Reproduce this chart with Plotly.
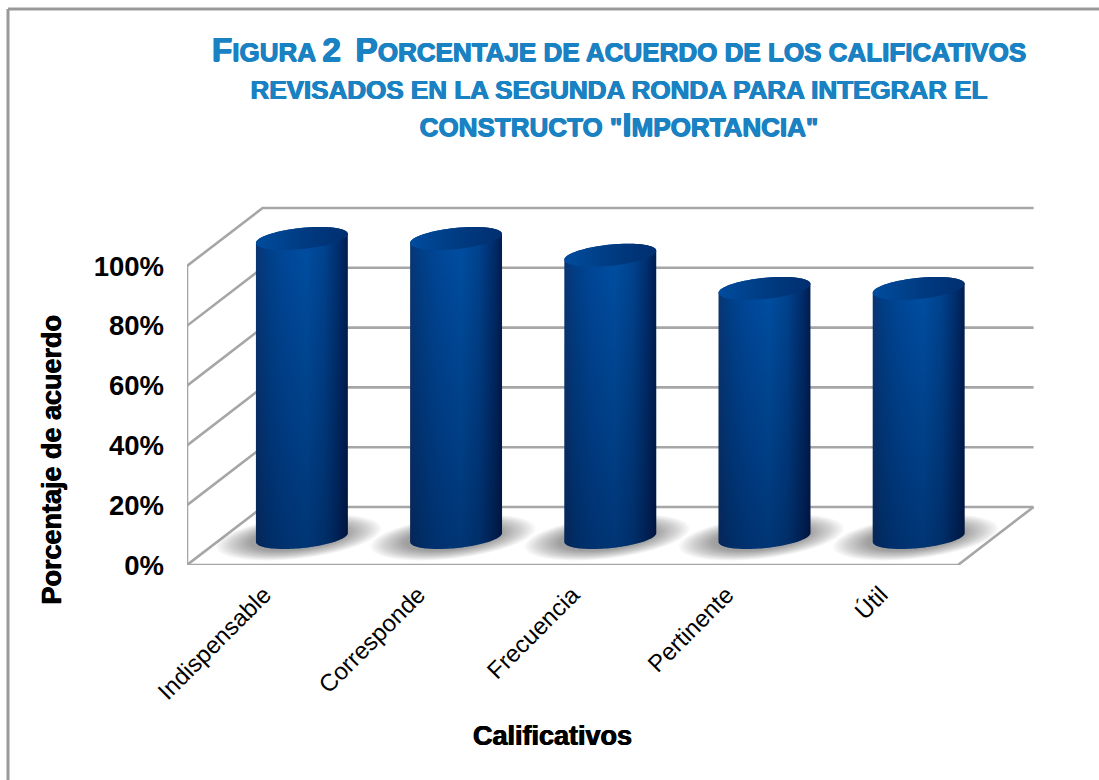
"""Figura 2: porcentaje de acuerdo de los calificativos (cilindros 3D)."""

import numpy as np
import plotly.graph_objects as go

categories = ["Indispensable", "Corresponde", "Frecuencia", "Pertinente", "Útil"]
agreement = [100, 100, 94.4, 83.3, 83.3]
grid_levels = [0, 20, 40, 60, 80, 100]
tick_labels = ["0%", "20%", "40%", "60%", "80%", "100%"]

title_lines = [
    "Figura 2\u00a0\u00a0Porcentaje de acuerdo de los calificativos",
    "revisados en la segunda ronda para integrar el",
    'constructo "Importancia"',
]

FONT = "Liberation Sans"
GRID_COLOR = "#a6a6a6"
TITLE_COLOR = "#1a82c2"

# page geometry, px
WIDTH, HEIGHT = 1099, 780
LEFT, RIGHT, TOP, BOTTOM = 187, 1042, 198, 565
PX_PER_CAT = 154.2
PX_PER_PCT = 2.99

# oblique projection, in axis units
DEPTH_X = 0.49
DEPTH_Y = 19.4
RADIUS_X = 0.298
RADIUS_Y = 3.55
TILT_Y = 1.5
BASE_Y = 9.2

body_scale = [
    [0.0, "#0a3675"],
    [0.12, "#004089"],
    [0.3, "#00489a"],
    [0.55, "#004fa3"],
    [0.75, "#00438f"],
    [0.9, "#002e6e"],
    [1.0, "#001d52"],
]
cap_scale = [[0.0, "#004c9e"], [0.55, "#003a80"], [1.0, "#002f70"]]
depth_scale = [[0.0, "rgba(0,0,20,0.32)"], [1.0, "rgba(0,0,20,0)"]]


def paper_x(px):
    return (px - LEFT) / (RIGHT - LEFT)


def paper_y(px):
    return (BOTTOM - px) / (BOTTOM - TOP)


def small_caps(text, big=33.5, small=26):
    """Mimic small caps: capitals and digits large, the rest upper-cased and small."""
    out = []
    for ch in text:
        size = big if ch.isupper() or ch.isdigit() else small
        out.append(f'<span style="font-size:{size}px">{ch.upper()}</span>')
    return "".join(out)


def ellipse(cx, cy, scale=1.0, y_scale=None, n=90):
    y_scale = scale if y_scale is None else y_scale
    t = np.linspace(0, 2 * np.pi, n)
    x = cx + scale * RADIUS_X * np.cos(t)
    y = cy + y_scale * (TILT_Y * np.cos(t) - RADIUS_Y * np.sin(t))
    return x, y


def body_outline(cx, y0, y1, n=60):
    """Side of a cylinder: front half of the base ellipse, then straight up and over."""
    t = np.linspace(0, np.pi, n)
    xb = cx + RADIUS_X * np.cos(t)
    yb = y0 + TILT_Y * np.cos(t) - RADIUS_Y * np.sin(t)
    xt = cx + RADIUS_X * np.cos(t[::-1])
    yt = y1 + TILT_Y * np.cos(t[::-1]) + RADIUS_Y * np.sin(t[::-1])
    return np.r_[xb, xt, xb[0]], np.r_[yb, yt, yb[0]]


fig = go.Figure()

# walls and floor
x_left = -0.5
x_right = x_left + len(categories)
wall_x, wall_y = [], []
for level in grid_levels:
    wall_x += [x_left, x_left + DEPTH_X, x_right + DEPTH_X, None]
    wall_y += [level, level + DEPTH_Y, level + DEPTH_Y, None]
wall_x += [x_left, x_left, None, x_left, x_right, x_right + DEPTH_X]
wall_y += [0, grid_levels[-1], None, 0, 0, DEPTH_Y]
fig.add_trace(
    go.Scatter(
        x=wall_x,
        y=wall_y,
        mode="lines",
        line={"color": GRID_COLOR, "width": 2.6},
        cliponaxis=False,
        hoverinfo="skip",
    )
)

# soft shadows on the floor
for i in range(len(categories)):
    cx = i + DEPTH_X / 2 - 0.02
    for scale in np.linspace(1.8, 1.05, 18):
        x, y = ellipse(cx, BASE_Y, scale, scale * 1.12)
        fig.add_trace(
            go.Scatter(
                x=x,
                y=y,
                mode="none",
                fill="toself",
                fillcolor="rgba(0,0,0,0.022)",
                hoverinfo="skip",
            )
        )

# cylinders
for i, value in enumerate(agreement):
    cx = i + DEPTH_X / 2
    top = BASE_Y + value
    x, y = body_outline(cx, BASE_Y, top)
    fig.add_trace(
        go.Scatter(
            x=x,
            y=y,
            mode="none",
            fill="toself",
            fillgradient={"type": "horizontal", "colorscale": body_scale},
            hoverinfo="skip",
        )
    )
    fig.add_trace(
        go.Scatter(
            x=x,
            y=y,
            mode="none",
            fill="toself",
            fillgradient={"type": "vertical", "colorscale": depth_scale},
            hoverinfo="skip",
        )
    )
    x, y = ellipse(cx, top)
    fig.add_trace(
        go.Scatter(
            x=x,
            y=y,
            mode="none",
            fill="toself",
            fillgradient={"type": "horizontal", "colorscale": cap_scale},
            hoverinfo="skip",
        )
    )

fig.update_xaxes(
    range=[x_left, x_left + (RIGHT - LEFT) / PX_PER_CAT],
    tickmode="array",
    tickvals=list(range(len(categories))),
    ticktext=categories,
    tickangle=-45,
    tickfont={"family": FONT, "size": 24, "color": "black"},
    ticks="",
    ticklabelstandoff=10,
    showgrid=False,
    zeroline=False,
    showline=False,
)
fig.update_yaxes(
    range=[0, (BOTTOM - TOP) / PX_PER_PCT],
    tickmode="array",
    tickvals=grid_levels,
    ticktext=[f"<b>{t}</b>" for t in tick_labels],
    tickfont={"family": FONT, "size": 27.5, "color": "black"},
    ticks="",
    ticklabelstandoff=22,
    showgrid=False,
    zeroline=False,
    showline=False,
)

# the reference text is slightly heavier than plain bold
heavy_black = "0.5px 0 0 black, -0.5px 0 0 black"
heavy_blue = f"0.6px 0 0 {TITLE_COLOR}, -0.6px 0 0 {TITLE_COLOR}, 0 0.5px 0 {TITLE_COLOR}"

fig.add_annotation(
    text="<b>Porcentaje de acuerdo</b>",
    xref="paper",
    yref="paper",
    x=paper_x(51),
    y=paper_y(459.5),
    xanchor="center",
    yanchor="middle",
    textangle=-90,
    showarrow=False,
    font={"family": FONT, "size": 27, "color": "black", "shadow": heavy_black},
)
fig.add_annotation(
    text="<b>Calificativos</b>",
    xref="paper",
    yref="paper",
    x=paper_x(552),
    y=paper_y(736),
    xanchor="center",
    yanchor="middle",
    showarrow=False,
    font={"family": FONT, "size": 27, "color": "black", "shadow": heavy_black},
)

# grey frame of the page, only left and top are in view
frame = {"type": "line", "xref": "paper", "yref": "paper", "line": {"color": "#999999", "width": 3}}
fig.add_shape(**frame, x0=paper_x(8), x1=paper_x(8), y0=paper_y(HEIGHT), y1=paper_y(9))
fig.add_shape(**frame, x0=paper_x(8), x1=paper_x(WIDTH), y0=paper_y(9), y1=paper_y(9))

fig.update_layout(
    width=WIDTH,
    height=HEIGHT,
    margin={"l": LEFT, "r": WIDTH - RIGHT, "t": TOP, "b": HEIGHT - BOTTOM},
    showlegend=False,
    plot_bgcolor="white",
    paper_bgcolor="white",
    hovermode=False,
    title={
        "text": "<b>" + "<br>".join(small_caps(line) for line in title_lines) + "</b>",
        "x": 619 / WIDTH,
        "xanchor": "center",
        "xref": "container",
        "y": 1 - 61 / HEIGHT,
        "yanchor": "top",
        "font": {"family": FONT, "size": 29, "color": TITLE_COLOR, "shadow": heavy_blue},
    },
)

fig.write_html(
    "out.html",
    config={"displayModeBar": False},
    post_script="document.body.style.margin='0';document.body.style.overflow='hidden';",
)
